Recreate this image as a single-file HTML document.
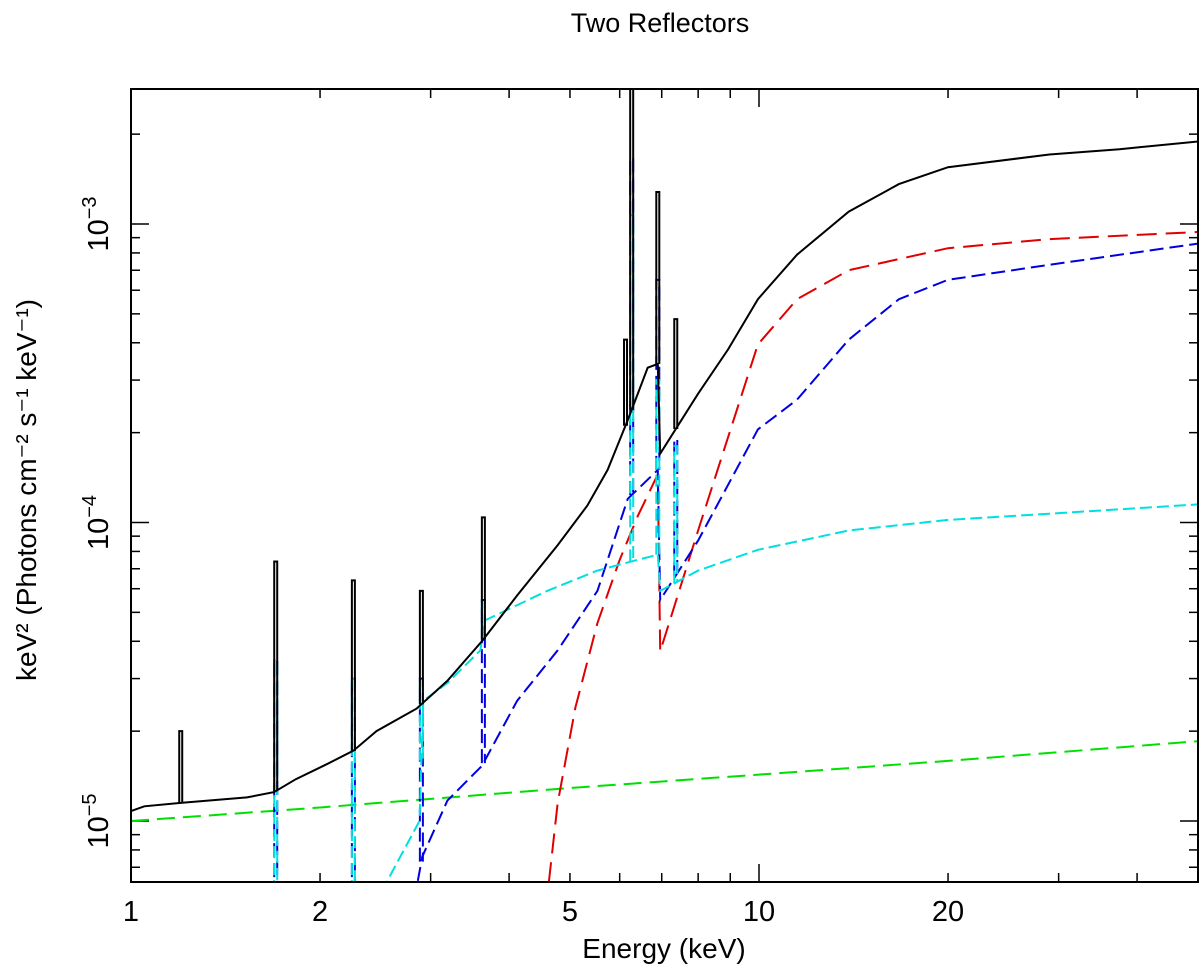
<!DOCTYPE html>
<html><head><meta charset="utf-8"><style>
body{margin:0;background:#fff}
svg{display:block;font-family:"Liberation Sans",sans-serif}
</style></head><body>
<svg id="chart" width="1200" height="972" viewBox="0 0 1200 972">
<text x="660" y="32" font-size="27" text-anchor="middle">Two Reflectors</text>
<g id="axes"></g>
<g id="plot"></g>
<rect x="131" y="89" width="1067" height="793" fill="none" stroke="#000" stroke-width="2"/>
<text x="664" y="958" font-size="28" text-anchor="middle">Energy (keV)</text>
<text transform="translate(36,490) rotate(-90)" font-size="28" text-anchor="middle">keV² (Photons cm⁻² s⁻¹ keV⁻¹)</text>
</svg>
<script>
const xTicksMajor=[1,2,5,10,20];
const xTickLabels=["1","2","5","10","20"];
const yTicksMajor=[1e-5,1e-4,1e-3];
const yTickLabels=["-5","-4","-3"];
// total (black)
const blackE=[1,1.05,1.2,1.53,1.69,1.83,2.05,2.26,2.46,2.85,3.19,3.62,4.12,4.78,5.33,5.74,6.18,6.65,6.9,6.96,8.0,8.93,9.96,11.5,13.9,16.7,20,29,37.5,50];
const blackV=[1.08e-5,1.12e-5,1.15e-5,1.2e-5,1.25e-5,1.38e-5,1.55e-5,1.72e-5,2.0e-5,2.38e-5,2.95e-5,4.0e-5,5.7e-5,8.4e-5,1.14e-4,1.5e-4,2.2e-4,3.3e-4,3.4e-4,1.7e-4,2.7e-4,3.8e-4,5.6e-4,7.9e-4,1.1e-3,1.36e-3,1.55e-3,1.71e-3,1.78e-3,1.89e-3];
const blackLineE=[1.2,1.70,2.26,2.9,3.64,6.13,6.27,6.9,7.37];
const blackLineV=[2.0e-5,7.4e-5,6.4e-5,5.9e-5,1.04e-4,4.1e-4,2.84e-3,1.28e-3,4.8e-4];
// red
const redE=[4.52,4.78,5.1,5.53,6.0,6.41,6.9,6.96,8.0,9.96,11.5,13.9,20,29,50];
const redV=[4.0e-6,1.15e-5,2.4e-5,4.6e-5,7.5e-5,1.05e-4,1.45e-4,3.7e-5,9.4e-5,3.95e-4,5.6e-4,7.0e-4,8.3e-4,8.9e-4,9.4e-4];
// blue
const blueE=[2.75,2.91,3.19,3.62,4.12,4.78,5.53,6.18,6.9,6.96,8.0,9.96,11.5,13.9,16.7,20,29,50];
const blueV=[4.0e-6,7.6e-6,1.17e-5,1.53e-5,2.53e-5,3.73e-5,5.9e-5,1.2e-4,1.5e-4,5.5e-5,8.7e-5,2.05e-4,2.58e-4,4.1e-4,5.6e-4,6.5e-4,7.3e-4,8.6e-4];
const blueLineE=[1.70,2.26,2.9,3.64,6.27,6.9,7.37];
const blueLineV=[3.45e-5,3.0e-5,3.0e-5,5.5e-5,1.66e-3,6.5e-4,1.9e-4];
// cyan
const cyanE=[2.37,2.46,2.88,2.92,3.19,3.6,3.66,4.6,5.53,6.41,6.9,6.96,8.0,9.96,13.9,20,29,50];
const cyanV=[4.0e-6,5.4e-6,1.0e-5,2.53e-5,2.9e-5,3.73e-5,4.7e-5,5.9e-5,6.9e-5,7.5e-5,7.8e-5,5.9e-5,6.9e-5,8.1e-5,9.4e-5,1.02e-4,1.07e-4,1.15e-4];
const cyanLineE=[1.70,2.26,2.9,3.64,6.27,6.9,7.37];
const cyanLineV=[3.45e-5,3.0e-5,3.0e-5,5.5e-5,1.07e-3,3.0e-4,1.8e-4];
// green
const greenE=[1,2,5,10,20,50];
const greenV=[1.0e-5,1.11e-5,1.29e-5,1.43e-5,1.59e-5,1.85e-5];

const X0=131,X1=1198,Y0=89,Y1=882;
function xs(e){return X0+628*Math.log10(e);}
function ys(v){return 821-298.5*(Math.log10(v)+5);}
const NS="http://www.w3.org/2000/svg";
const axes=document.getElementById('axes'),plot=document.getElementById('plot');
function mk(tag,attrs,parent){const el=document.createElementNS(NS,tag);for(const k in attrs)el.setAttribute(k,attrs[k]);parent.appendChild(el);return el;}
for(let d=0;d<2;d++)for(let m=1;m<10;m++){const e=m*Math.pow(10,d);if(e>50)break;const x=xs(e);const L=(m===1)?18:9;
 const t1=mk('line',{x1:x,y1:Y1,x2:x,y2:Y1-L,stroke:'#000','stroke-width':1.5},axes);
 
 
 const t2=mk('line',{x1:x,y1:Y0,x2:x,y2:Y0+L,stroke:'#000','stroke-width':1.5},axes);
 
 }
xTicksMajor.forEach((e,i)=>{const t=mk('text',{x:xs(e),y:921,'font-size':29,'text-anchor':'middle'},axes);t.textContent=xTickLabels[i];
 
 });
for(let d=-6;d<=-3;d++)for(let m=1;m<10;m++){const v=m*Math.pow(10,d);const y=ys(v);if(y<Y0||y>Y1)continue;const L=(m===1)?18:9;
 const t1=mk('line',{x1:X0,y1:y,x2:X0+L,y2:y,stroke:'#000','stroke-width':1.5},axes);
 
 
 const t2=mk('line',{x1:X1,y1:y,x2:X1-L,y2:y,stroke:'#000','stroke-width':1.5},axes);
 
 }
yTicksMajor.forEach((v,i)=>{const y=ys(v);const t=mk('text',{transform:`translate(108,${y}) rotate(-90)`,'font-size':29,'text-anchor':'middle'},axes);
 t.innerHTML=`10<tspan dy="-12" font-size="20">${yTickLabels[i].replace('-','−')}</tspan>`;
 
 });
const defs=mk('defs',{},plot);const cp=mk('clipPath',{id:'clip'},defs);mk('rect',{x:X0,y:Y0,width:X1-X0,height:Y1-Y0},cp);
const g=mk('g',{'clip-path':'url(#clip)'},plot);
function series(E,V,color,dash,name){
 const d=E.map((e,i)=>(i?'L':'M')+xs(e).toFixed(1)+','+ys(V[i]).toFixed(1)).join(' ');
 const p=mk('path',{d:d,fill:'none',stroke:color,'stroke-width':2,'stroke-dasharray':dash},g);
 
 }
function interp(E,V,e){if(e<E[0])return 3e-6;for(let i=1;i<E.length;i++)if(e<=E[i]){const t=Math.log(e/E[i-1])/Math.log(E[i]/E[i-1]);return Math.exp(Math.log(V[i-1])+t*Math.log(V[i]/V[i-1]));}return V[V.length-1];}
function spikes(LE,LV,E,V,color,dash,name){LE.forEach((e,i)=>{const b=interp(E,V,e);const x=xs(e);
 const d=`M${x-1.5},${ys(b)} L${x-1.5},${ys(LV[i])} L${x+1.5},${ys(LV[i])} L${x+1.5},${ys(b)}`;
 const p=mk('path',{d:d,fill:'none',stroke:color,'stroke-width':2,'stroke-dasharray':dash},g);
 
 });}
series(greenE,greenV,'#00e000','18 8','green-component');
series(redE,redV,'#e00000','20 9','red-component');
spikes(blueLineE,blueLineV,blueE,blueV,'#0000e0','14 6','blue-line');
series(blueE,blueV,'#0000e0','14 6','blue-component');
spikes(cyanLineE,cyanLineV,cyanE,cyanV,'#00e0e0','12 5','cyan-line');
series(cyanE,cyanV,'#00e0e0','12 5','cyan-component');
spikes(blackLineE,blackLineV,blackE,blackV,'#000','none','total-line');
series(blackE,blackV,'#000','none','total-model');
</script>
</body></html>
